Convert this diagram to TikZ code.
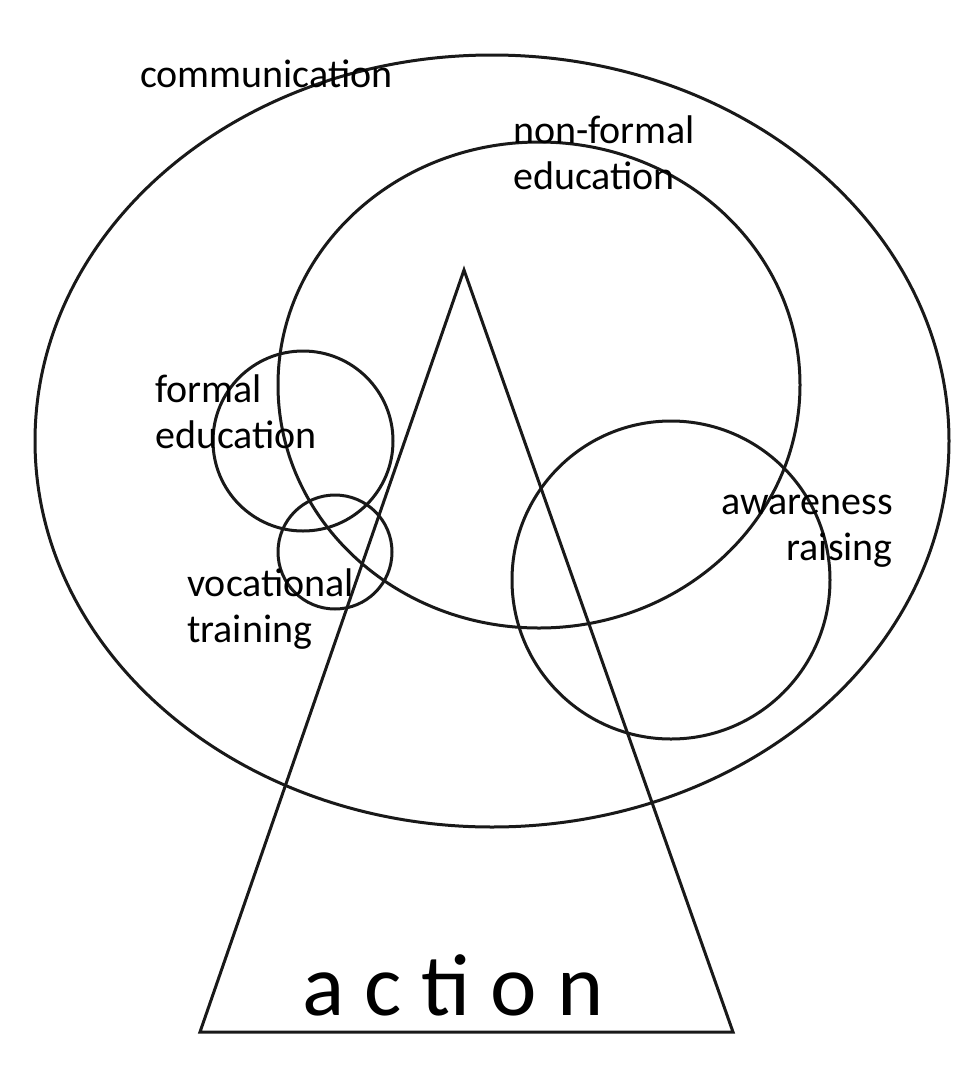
\documentclass[tikz,border=0pt]{standalone}
\usepackage{fontspec}
\setmainfont{Carlito}
\usetikzlibrary{positioning}
\tikzset{
  ring/.style={draw=black!90,line width=3pt},
  lbl/.style={font=\fontsize{40}{46}\selectfont,inner sep=0pt},
  big/.style={font=\fontsize{88}{90}\selectfont,inner sep=0pt}}
\begin{document}
\begin{tikzpicture}[x=1pt,y=-1pt]
\useasboundingbox (0,0) rectangle (966,1066);
% rings
\draw[ring] (492,441) ellipse [x radius=457,y radius=386];
\draw[ring] (539,385) ellipse [x radius=261,y radius=243];
\draw[ring] (303,441) circle [radius=90];
\draw[ring] (335,552) circle [radius=57];
\draw[ring] (671,580) circle [radius=159];
% action triangle
\coordinate (apex) at (464,270);
\coordinate (bl) at (200,1032);
\coordinate (br) at (733,1032);
\draw[ring,line join=miter] (apex) -- (bl) -- (br) -- cycle;
% labels
\node[lbl,anchor=base west] (comm) at (140,87) {communication};
\node[lbl,anchor=base west,align=left] (nonformal) at (513,189) {non-formal\\education};
\node[lbl,anchor=base west,align=left] (formal) at (155,448) {formal\\education};
\node[lbl,anchor=base west,align=left] (vocational) at (187,642) {vocational\\training};
\node[lbl,anchor=base east,align=right] (awareness) at (893,560) {awareness\\raising};
\node[big,anchor=base] (action) at (453,1015) {a c ti o n};
\end{tikzpicture}
\end{document}
